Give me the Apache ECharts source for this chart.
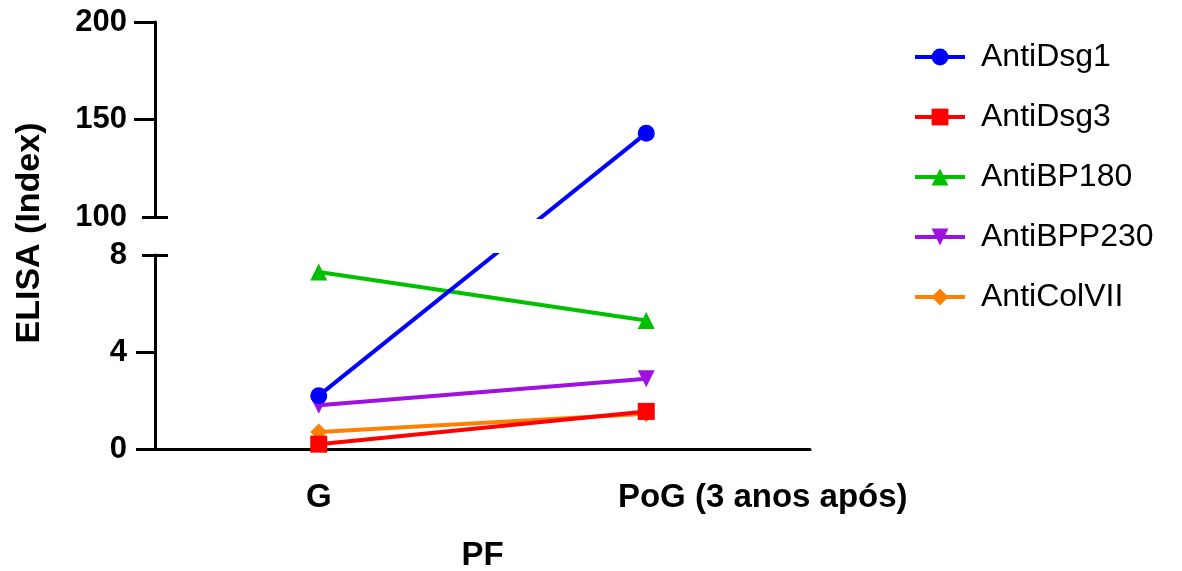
<!DOCTYPE html>
<html>
<head>
<meta charset="utf-8">
<script src="https://cdn.jsdelivr.net/npm/echarts@6/dist/echarts.min.js"></script>
<style>
  html, body { margin: 0; padding: 0; background: #fff; }
  #chart { width: 1182px; height: 571px; }
</style>
</head>
<body>
<div id="chart"></div>
<script>
// ---- data ----
const categories = ['G', 'PoG (3 anos após)'];
const seriesNames = ['AntiDsg1', 'AntiDsg3', 'AntiBP180', 'AntiBPP230', 'AntiColVII'];
const antiDsg1 = [2.2, 143];
const antiDsg3 = [0.2, 1.55];
const antiBP180 = [7.3, 5.3];
const antiBPP230 = [1.8, 2.9];
const antiColVII = [0.7, 1.45];
const lowerRange = [0, 8];
const upperRange = [100, 200];
const lowerTickStep = 4;
const upperTickStep = 50;
const xAxisTitle = 'PF';
const yAxisTitle = 'ELISA (Index)';

// ---- layout ----
const FONT = 'Liberation Sans, Arial, Helvetica, sans-serif';
const GRID_LEFT = 155, GRID_W = 655;
const UP_TOP = 22, UP_H = 195;
const LOW_TOP = 255, LOW_H = 194;
const GAP = LOW_TOP - (UP_TOP + UP_H);

// broken-axis scale: distance (px) above the lower grid bottom
function brokenPx(v) {
  if (v <= lowerRange[1]) return (v - lowerRange[0]) / (lowerRange[1] - lowerRange[0]) * LOW_H;
  if (v >= upperRange[0]) return LOW_H + GAP + (v - upperRange[0]) / (upperRange[1] - upperRange[0]) * UP_H;
  return LOW_H + (v - lowerRange[1]) / (upperRange[0] - lowerRange[1]) * GAP;
}
function toLower(v) { return lowerRange[0] + brokenPx(v) / LOW_H * (lowerRange[1] - lowerRange[0]); }
function toUpper(v) { return upperRange[0] + (brokenPx(v) - LOW_H - GAP) / UP_H * (upperRange[1] - upperRange[0]); }

const colors = ['#0000FF', '#FF0000', '#00C000', '#A010E0', '#FF8000'];
const symbols = ['circle', 'rect', 'triangle', 'triangle', 'diamond'];
const rotations = [0, 0, 0, 180, 0];
const zs = [7, 6, 5, 4, 3];
const allData = [antiDsg1, antiDsg3, antiBP180, antiBPP230, antiColVII];

const series = [];
seriesNames.forEach((name, i) => {
  const base = {
    name: name,
    type: 'line',
    symbol: symbols[i],
    symbolSize: 17,
    symbolRotate: rotations[i],
    clip: true,
    z: zs[i],
    color: colors[i],
    lineStyle: { width: 4, color: colors[i] },
    itemStyle: { color: colors[i] },
    emphasis: { disabled: true },
    animation: false
  };
  series.push(Object.assign({}, base, {
    xAxisIndex: 0, yAxisIndex: 0,
    data: allData[i].map(toLower)
  }));
  series.push(Object.assign({}, base, {
    xAxisIndex: 1, yAxisIndex: 3,
    data: allData[i].map(toUpper)
  }));
});

const black = '#000';
const tickLabelStyle = { color: black, fontSize: 31, fontWeight: 'bold', fontFamily: FONT, margin: 28 };

function capAxis(gridIndex, range, value, inside) {
  return {
    type: 'value', gridIndex: gridIndex, position: 'left',
    min: range[0], max: range[1],
    axisLine: { show: false },
    axisLabel: { show: false },
    splitLine: { show: false },
    axisTick: { show: true, inside: inside, length: 13, customValues: [value],
                lineStyle: { color: black, width: 3 } }
  };
}

const option = {
  backgroundColor: '#fff',
  animation: false,
  grid: [
    { left: GRID_LEFT, width: GRID_W, top: LOW_TOP, height: LOW_H, outerBoundsMode: 'none', containLabel: false },
    { left: GRID_LEFT, width: GRID_W, top: UP_TOP, height: UP_H, outerBoundsMode: 'none', containLabel: false }
  ],
  xAxis: [
    {
      type: 'category', gridIndex: 0, data: categories, boundaryGap: true,
      axisLine: { show: true, lineStyle: { color: black, width: 3 } },
      axisTick: { show: false },
      axisLabel: {
        interval: 0, margin: 32,
        formatter: (v) => v === categories[0] ? '{a|' + v + '}' : '{b|' + v + '}',
        rich: {
          a: { color: black, fontSize: 33, fontWeight: 'bold', fontFamily: FONT },
          b: { color: black, fontSize: 33, fontWeight: 'bold', fontFamily: FONT, padding: [0, 0, 0, 233] }
        }
      },
      name: xAxisTitle, nameLocation: 'middle', nameGap: 90,
      nameTextStyle: { color: black, fontSize: 33, fontWeight: 'bold', fontFamily: FONT }
    },
    { type: 'category', gridIndex: 1, data: categories, boundaryGap: true, show: false }
  ],
  yAxis: [
    {
      type: 'value', gridIndex: 0, position: 'left',
      min: lowerRange[0], max: lowerRange[1], interval: lowerTickStep,
      axisLine: { show: true, lineStyle: { color: black, width: 3 } },
      axisTick: { show: true, length: 19, customValues: [0, 4], lineStyle: { color: black, width: 3 } },
      axisLabel: tickLabelStyle,
      splitLine: { show: false }
    },
    capAxis(0, lowerRange, lowerRange[1], false),
    capAxis(0, lowerRange, lowerRange[1], true),
    {
      type: 'value', gridIndex: 1, position: 'left',
      min: upperRange[0], max: upperRange[1], interval: upperTickStep,
      axisLine: { show: true, lineStyle: { color: black, width: 3 } },
      axisTick: { show: true, length: 21, customValues: [150, 200], lineStyle: { color: black, width: 3 } },
      axisLabel: tickLabelStyle,
      splitLine: { show: false }
    },
    capAxis(1, upperRange, upperRange[0], false),
    capAxis(1, upperRange, upperRange[0], true)
  ],
  legend: {
    orient: 'vertical', left: 908, top: 34,
    itemWidth: 50, itemHeight: 21, itemGap: 24,
    data: seriesNames,
    lineStyle: { width: 4 },
    textStyle: { color: black, fontSize: 32, fontFamily: FONT, lineHeight: 36, padding: [0, 0, 0, 11] },
    selectedMode: false
  },
  graphic: [
    {
      type: 'text', x: 30, y: 233, rotation: Math.PI / 2,
      style: { text: yAxisTitle, fill: black, fontSize: 34, fontWeight: 'bold', fontFamily: FONT,
               align: 'center', verticalAlign: 'middle' }
    }
  ],
  series: series
};

const chart = echarts.init(document.getElementById('chart'), null, { renderer: 'canvas' });
chart.setOption(option);
</script>
</body>
</html>
